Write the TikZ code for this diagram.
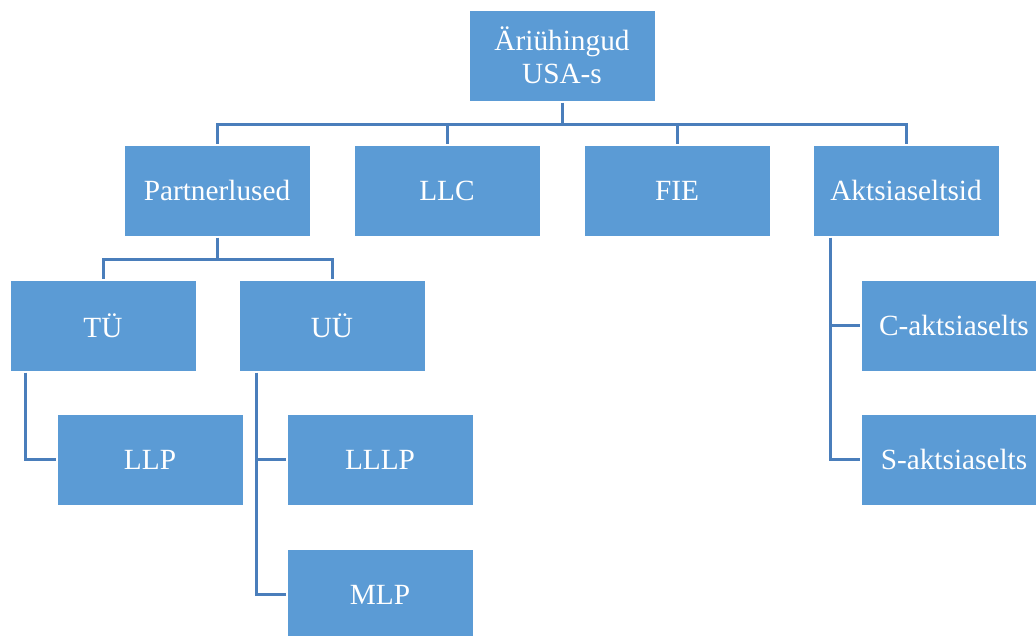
\documentclass[tikz,border=0pt]{standalone}
\usepackage{fontspec}
\setmainfont{Liberation Serif}
\definecolor{boxblue}{HTML}{5B9BD5}
\definecolor{lineblue}{HTML}{4A7EBB}
\begin{document}
\begin{tikzpicture}[x=1pt,y=1pt,
  orgbox/.style={rectangle, fill=boxblue, draw=white, line width=1pt,
    minimum width=186pt, minimum height=91pt, inner sep=0pt, align=center,
    text=white, font=\fontsize{29.3}{33}\selectfont},
  conn/.style={draw=lineblue, line width=3pt}]
\useasboundingbox (0,0) rectangle (1036,-635);
\clip (0,0) rectangle (1036,-635);
\node[orgbox] (top) at (562,-55.5) {Äriühingud\\USA-s};
\node[orgbox] (P) at (217,-190.5) {Partnerlused};
\node[orgbox] (LLC) at (447,-190.5) {LLC};
\node[orgbox] (FIE) at (677,-190.5) {FIE};
\node[orgbox] (A) at (906,-190.5) {Aktsiaseltsid};
\node[orgbox] (TU) at (103,-325.5) {TÜ};
\node[orgbox] (UU) at (332,-325.5) {UÜ};
\node[orgbox] (LLP) at (150,-459.5) {LLP};
\node[orgbox] (LLLP) at (380,-459.5) {LLLP};
\node[orgbox] (MLP) at (380,-594.5) {MLP};
\node[orgbox] (C) at (954,-325.5) {C-aktsiaselts};
\node[orgbox] (S) at (954,-459.5) {S-aktsiaselts};
\coordinate (bus1) at (0,-124);
\coordinate (bus2) at (0,-259);
\draw[conn] ([yshift=-1pt]top.south) -- (top.south |- bus1);
\draw[conn] ([yshift=1pt]P.north) -- (P.north |- bus1) -- (A.north |- bus1) -- ([yshift=1pt]A.north);
\draw[conn] ([yshift=1pt]LLC.north) -- (LLC.north |- bus1);
\draw[conn] ([yshift=1pt]FIE.north) -- (FIE.north |- bus1);
\draw[conn] ([yshift=-1pt]P.south) -- (P.south |- bus2);
\draw[conn] ([yshift=1pt]TU.north) -- (TU.north |- bus2) -- (UU.north |- bus2) -- ([yshift=1pt]UU.north);
\draw[conn] ([xshift=16pt,yshift=-1pt]TU.south west) |- ([xshift=-1pt]LLP.west);
\draw[conn] ([xshift=18pt,yshift=-1pt]UU.south west) |- ([xshift=-1pt]MLP.west);
\draw[conn] ([xshift=18pt]UU.south west |- LLLP.west) -- ([xshift=-1pt]LLLP.west);
\draw[conn] ([xshift=18pt,yshift=-1pt]A.south west) |- ([xshift=-1pt]S.west);
\draw[conn] ([xshift=18pt]A.south west |- C.west) -- ([xshift=-1pt]C.west);
\end{tikzpicture}
\end{document}
